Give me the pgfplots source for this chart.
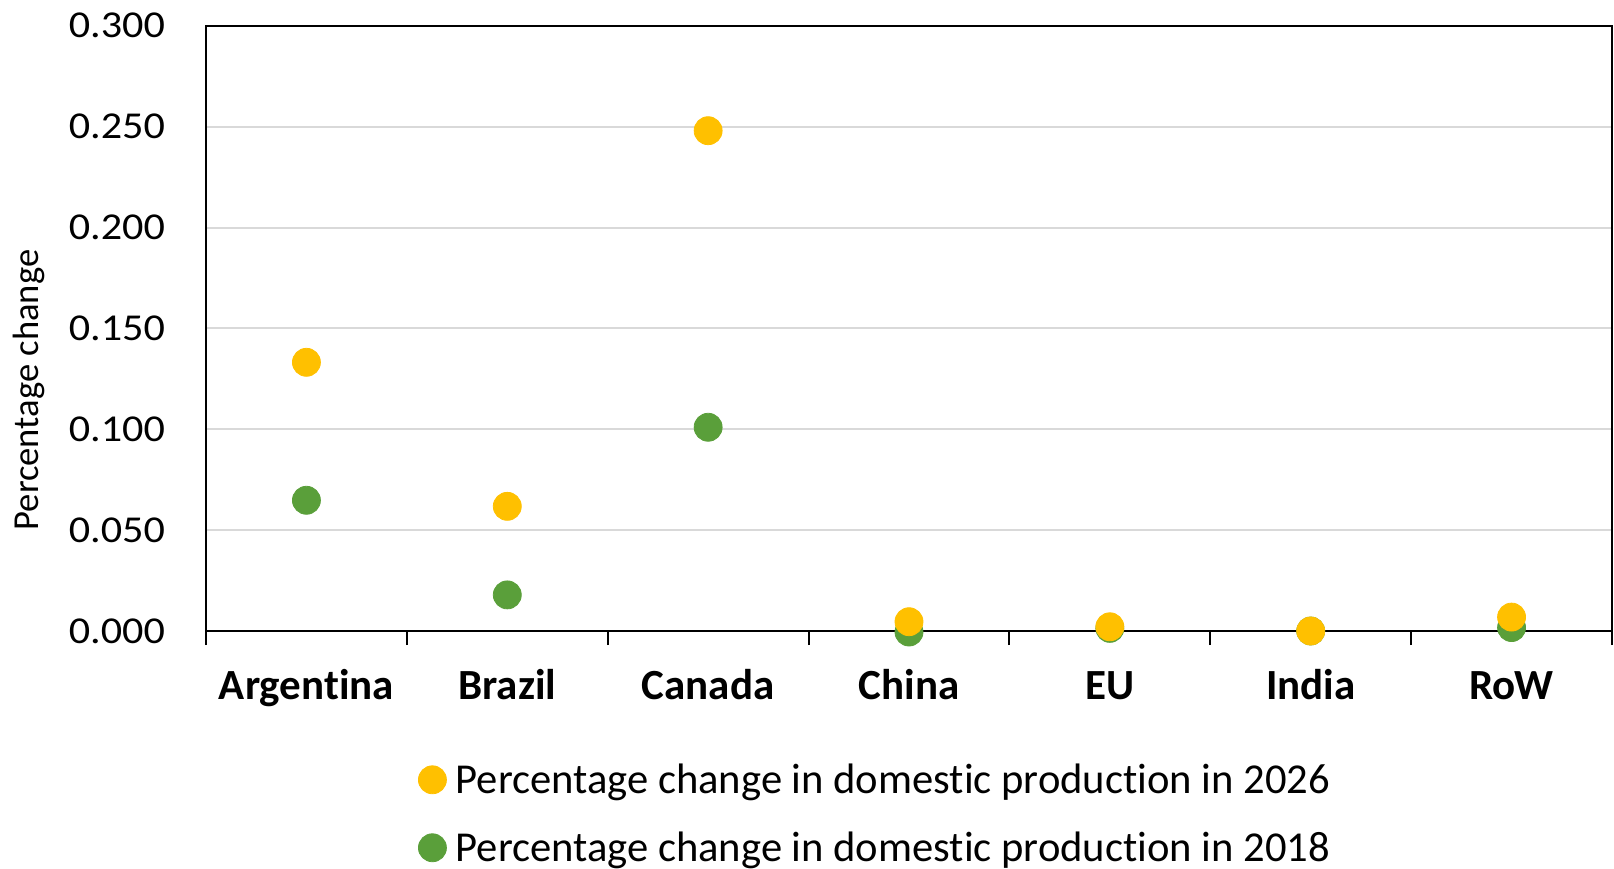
\documentclass[border=0pt]{standalone}
\usepackage{pgfplots}
\pgfplotsset{compat=1.18}
\usepackage{fontspec}
\setmainfont{Carlito}[Ligatures=NoCommon]
\definecolor{prodyellow}{HTML}{FFC000}
\definecolor{prodgreen}{HTML}{5A9F3A}
\definecolor{gridgray}{HTML}{D9D9D9}

\begin{document}
\begin{tikzpicture}
\path[use as bounding box] (-103bp,-119bp) rectangle (704bp,315.5bp);
\begin{axis}[
  at={(0,0)}, anchor=south west,
  scale only axis,
  width=703bp, height=302.6bp,
  xmin=-0.5, xmax=6.5,
  ymin=0, ymax=0.3,
  clip=false,
  axis line style={black, line width=1bp},
  tick pos=left,
  xtick={-0.5,0.5,...,6.5},
  xticklabels={},
  tick align=outside,
  major tick length=7bp,
  x tick style={black, line width=1bp},
  extra x ticks={0,1,2,3,4,5,6},
  extra x tick labels={Argentina,Brazil,Canada,China,EU,India,RoW},
  extra x tick style={
    major tick length=0pt,
    tick style={draw=none},
    xticklabel style={anchor=base, yshift=-34.2bp, inner sep=0pt,
      font=\fontsize{21.5bp}{25bp}\selectfont\bfseries},
  },
  ytick={0,0.05,...,0.3},
  y tick style={draw=none},
  yticklabel={\scalebox{1.11}[1]{\pgfmathprintnumber[fixed, fixed zerofill, precision=3, assume math mode=true]{\tick}}},
  yticklabel style={anchor=east, inner sep=0pt, xshift=-13.3bp,
    font=\fontsize{19bp}{22bp}\selectfont},
  ymajorgrids,
  major grid style={gridgray, line width=1bp},
  ylabel={Percentage change},
  ylabel style={at={(axis description cs:-0.1192,0.398)}, anchor=base,
    font=\fontsize{18.3bp}{22bp}\selectfont},
  legend style={
    at={(axis description cs:0.1508,-0.215)}, anchor=north west,
    draw=none, fill=none, inner sep=0pt,
    row sep=15.7bp,
    font=\fontsize{21.3bp}{25bp}\selectfont,
    nodes={inner sep=1bp},
  },
  legend cell align=left,
  legend image code/.code={\draw[#1] plot coordinates {(7bp,0bp)};},
]
% domestic production change in 2018 (drawn first, underneath)
\addplot[only marks, mark=*, mark size=7bp, color=prodgreen,
  mark options={draw=prodgreen, fill=prodgreen}, forget plot]
  coordinates {(0,0.0648) (1,0.0179) (2,0.101) (3,-0.0005) (4,0.0013) (5,0.0) (6,0.0017)};
% domestic production change in 2026
\addplot[only marks, mark=*, mark size=7bp, color=prodyellow,
  mark options={draw=prodyellow, fill=prodyellow}]
  coordinates {(0,0.1332) (1,0.0618) (2,0.248) (3,0.0046) (4,0.0021) (5,0.0) (6,0.0069)};
\addlegendentry{\hspace{3.6bp}Percentage change in domestic production in 2026}
\addlegendimage{only marks, mark=*, mark size=7bp, color=prodgreen, mark options={draw=prodgreen, fill=prodgreen}}
\addlegendentry{\hspace{3.6bp}Percentage change in domestic production in 2018}
\end{axis}
\end{tikzpicture}
\end{document}
